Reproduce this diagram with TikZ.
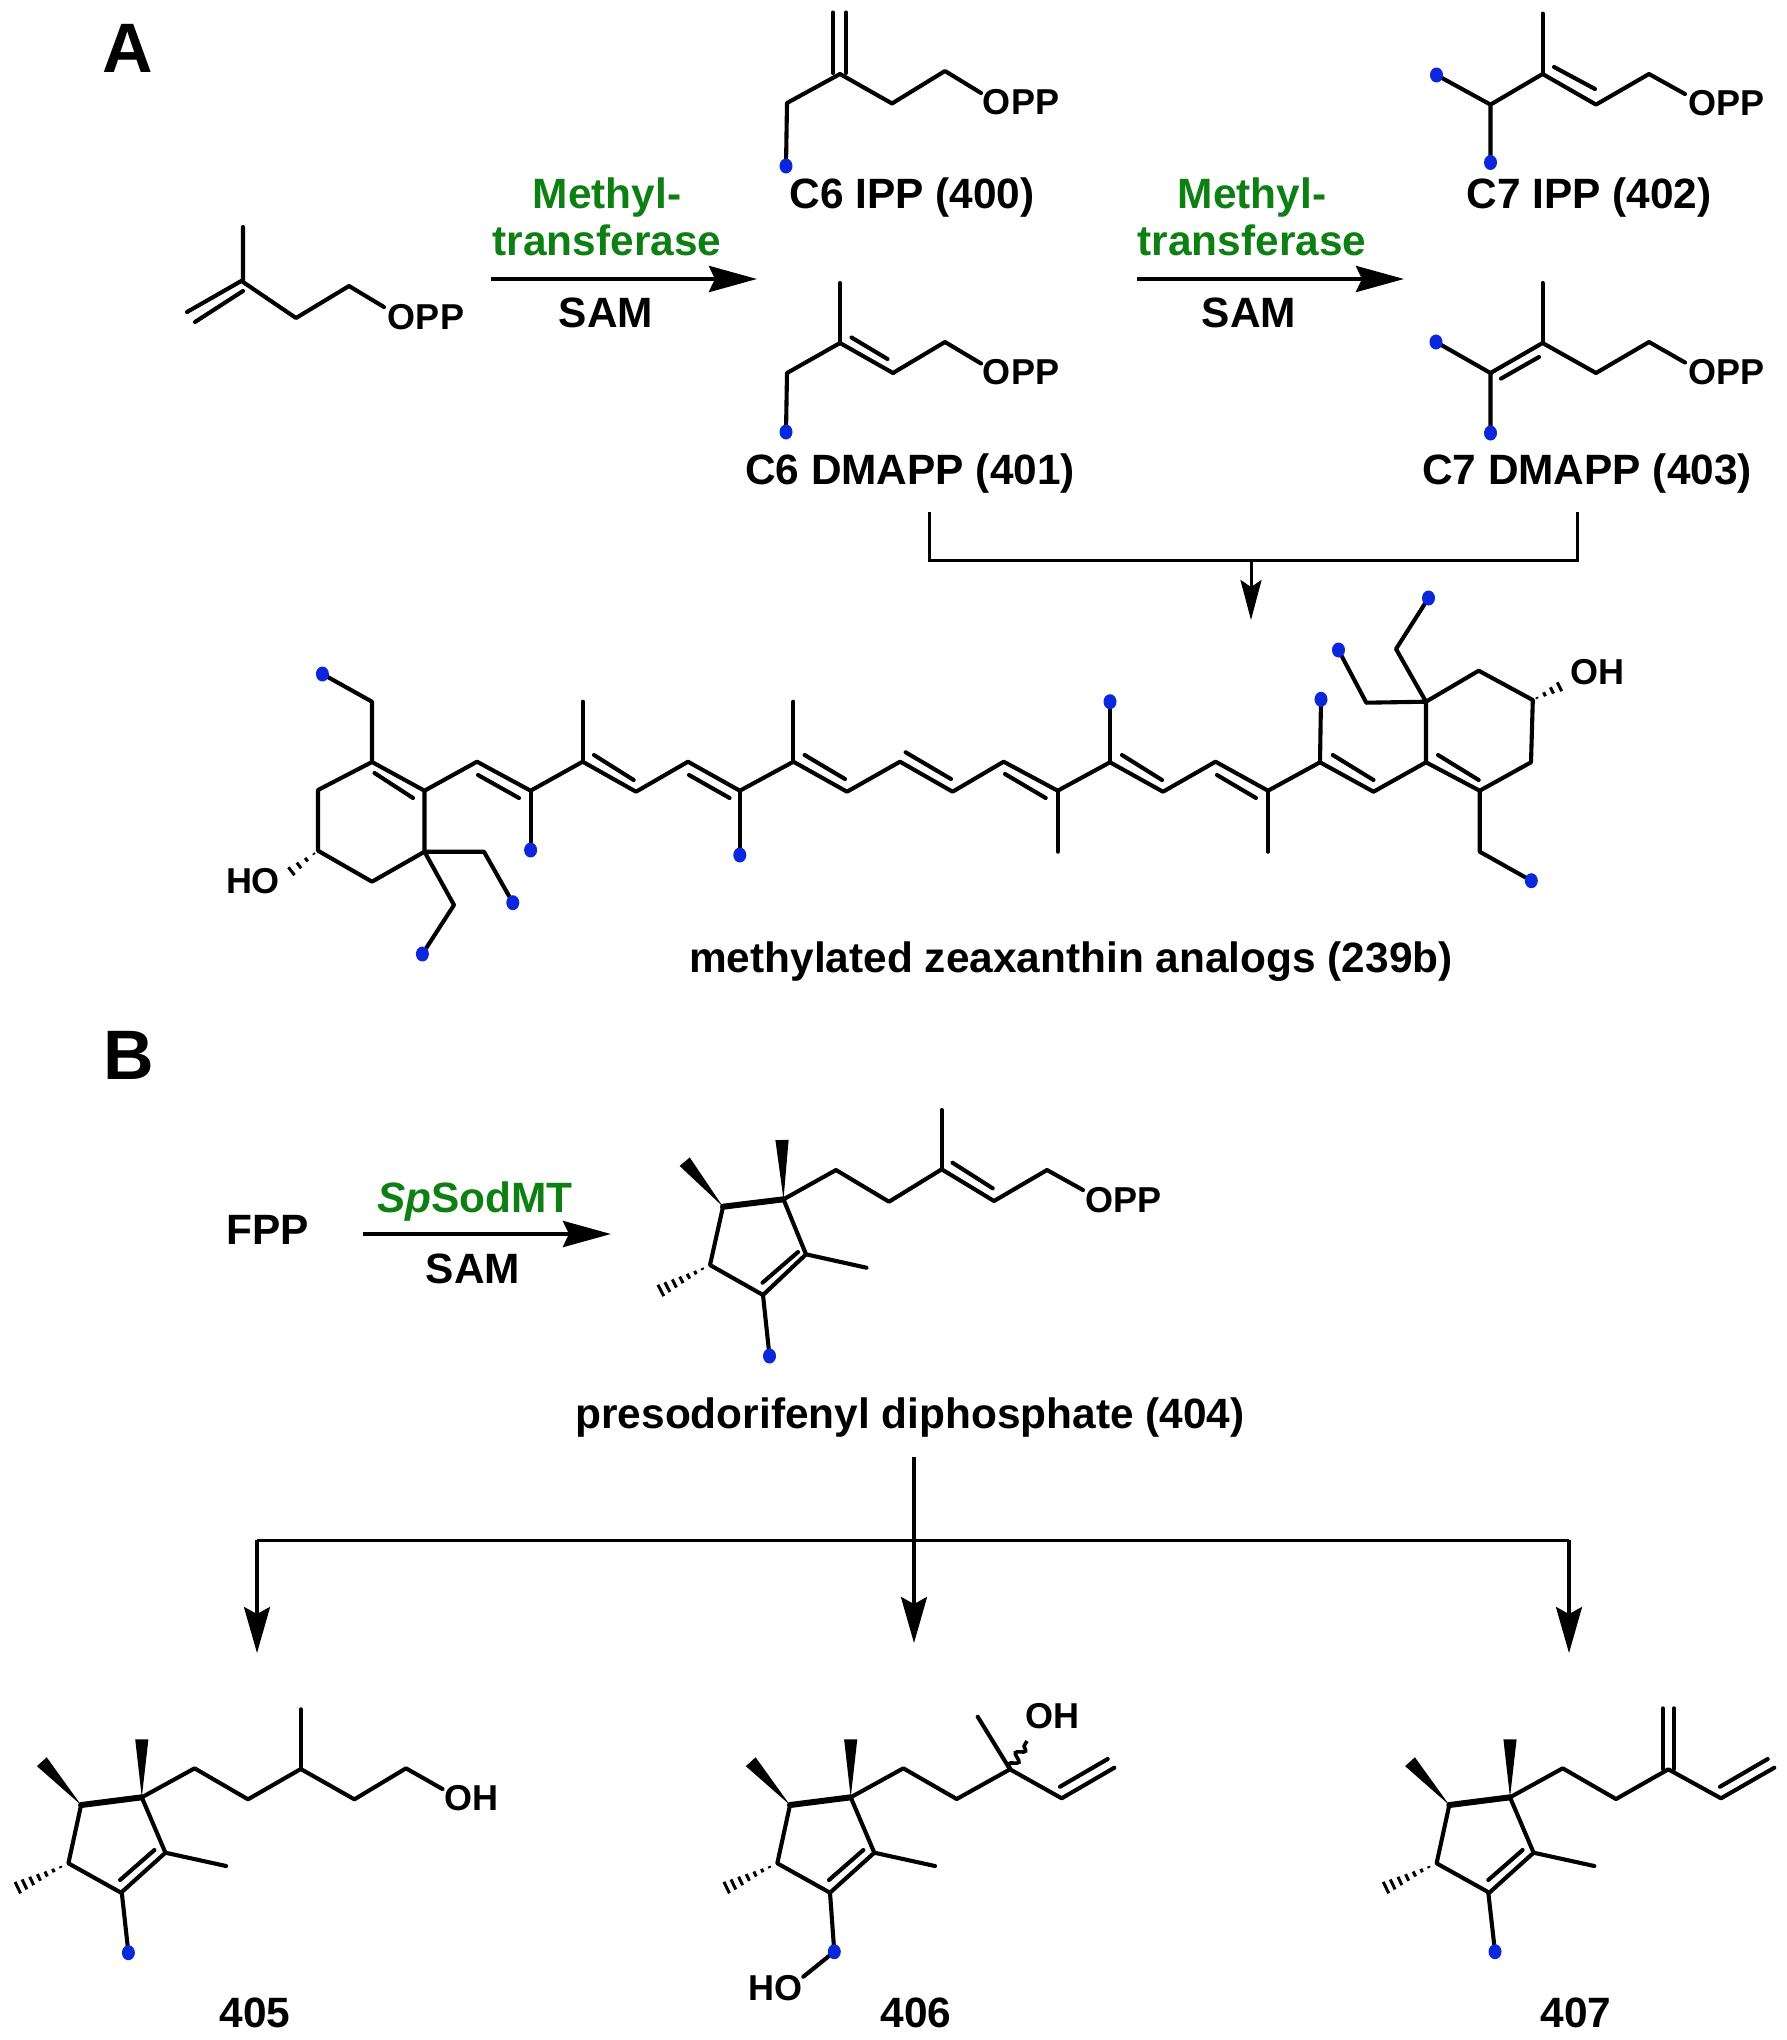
\documentclass[tikz,border=0pt]{standalone}
\usepackage{fontspec}
\setmainfont{Liberation Sans}
\usetikzlibrary{arrows.meta,calc,decorations.pathmorphing}
\definecolor{methylblue}{HTML}{0B27DC}
\definecolor{enzgreen}{HTML}{0E7F12}
\tikzset{
  bond/.style={line width=2.05pt,line cap=round,line join=round,black},
  lbl/.style={inner sep=0pt,anchor=base,font=\fontsize{21.2}{24}\selectfont\bfseries},
  atom/.style={inner sep=0pt,anchor=base,font=\fontsize{18}{20}\selectfont\bfseries},
  enz/.style={lbl,text=enzgreen},
  panel/.style={inner sep=0pt,anchor=base,font=\fontsize{35}{40}\selectfont\bfseries},
  rxn/.style={line width=2.2pt,black,-{Stealth[length=24pt,width=13pt,inset=3pt]}},
  branch/.style={line width=1.5pt,black},
  brancharrow/.style={line width=1.6pt,black,-{Stealth[length=23pt,width=13pt,inset=3.5pt]}},
  methyl/.style={fill=methylblue,draw=none}
}
\newcommand{\mdot}[1]{\fill[methyl] (#1) ellipse [x radius=6.5,y radius=7.5];}
\newcommand{\wedgebond}[2]{\fill[black,line join=round] (#1) -- ($(#2)!3.3pt!90:(#1)$) -- ($(#2)!3.3pt!-90:(#1)$) -- cycle;}
\newcommand{\hashbond}[2]{\foreach \t in {0.14,0.27,0.40,0.53,0.66,0.79,0.91,1.0}{%
  \pgfmathsetmacro{\w}{\t*3.5}%
  \coordinate (hh) at ($(#1)!\t!(#2)$);%
  \draw[line width=1.5pt,black] ($(hh)!\w pt!90:(#2)$) -- ($(hh)!\w pt!-90:(#2)$);}}
\newcommand{\hashshort}[2]{\foreach \t in {0.12,0.34,0.56,0.78,1.0}{%
  \pgfmathsetmacro{\w}{\t*3.2}%
  \coordinate (hh) at ($(#1)!\t!(#2)$);%
  \draw[line width=1.5pt,black] ($(hh)!\w pt!90:(#2)$) -- ($(hh)!\w pt!-90:(#2)$);}}
% cyclopentene core used by 405, 406, 407; origin = quaternary carbon
\newcommand{\corering}{%
  \coordinate (ca) at (0,0);\coordinate (cb) at (-60.7,7.7);\coordinate (cc) at (-73.4,66);
  \coordinate (cd) at (-20.7,95.4);\coordinate (ce) at (23.6,55.4);
  \wedgebond{ca}{0,-58}
  \wedgebond{cb}{-100,-35.6}
  \hashbond{cc}{-129,92.7}
  \draw[line width=3pt,line cap=round,black] (ca) -- (cb);
  \draw[bond] (cb) -- (cc) -- (cd) -- (ce) -- (ca);
  \draw[bond] (-21.7,82.7) -- (12.6,52.7);
  \draw[bond] (ce) -- (84.3,68.7);
}
\begin{document}
\begin{tikzpicture}[x=0.5pt,y=-0.5pt]
\useasboundingbox[fill=white] (0,0) rectangle (1787,2040);

% ---------- panel labels
\node[panel] (panelA) at (128,72) {A};
\node[panel] (panelB) at (129,1079) {B};

% ---------- starting material
\draw[bond] (243,227) -- (243,282) -- (296,318) -- (349,286) -- (384,307);
\draw[bond] (243,280) -- (187,312);
\draw[bond] (243,291) -- (195,322);
\node[atom] (opp0) at (426,329) {OPP};

% ---------- reaction arrow 1
\coordinate (r1a) at (491,279);\coordinate (r1b) at (757,279);
\draw[rxn] (r1a) -- (r1b);
\node[enz] (mt1a) at (607,208) {Methyl-};
\node[enz] (mt1b) at (607,255) {transferase};
\node[lbl] (sam1) at (606,327) {SAM};

% ---------- 400
\draw[bond] (833,12.5) -- (833,73);
\draw[bond] (846,12.5) -- (846,73);
\draw[bond] (786,166) -- (787,103) -- (840,74) -- (892,103.5) -- (945,71) -- (981,93);
\mdot{786,166}
\node[atom] (opp400) at (1021,114) {OPP};
\node[lbl] (c6ipp) at (912,208) {C6 IPP (400)};

% ---------- 401
\draw[bond] (840,283) -- (840,343);
\draw[bond] (786,432) -- (787,373) -- (840,343) -- (893,373) -- (945,342) -- (981,363.5);
\draw[bond] (851.5,337.5) -- (887.5,359);
\mdot{786,432}
\node[atom] (opp401) at (1021,384) {OPP};
\node[lbl] (c6dmapp) at (910,484) {C6 DMAPP (401)};

% ---------- reaction arrow 2
\coordinate (r2a) at (1137,279);\coordinate (r2b) at (1404,279);
\draw[rxn] (r2a) -- (r2b);
\node[enz] (mt2a) at (1252,208) {Methyl-};
\node[enz] (mt2b) at (1252,255) {transferase};
\node[lbl] (sam2) at (1249,327) {SAM};

% ---------- 402
\begin{scope}[xshift=-2.5pt]
\draw[bond] (1441.5,75) -- (1495.5,104.6) -- (1495.5,162.5);
\draw[bond] (1495.5,104.6) -- (1547.6,74) -- (1601,104.6) -- (1654,74) -- (1690,94);
\draw[bond] (1547.6,13.6) -- (1547.6,74);
\draw[bond] (1559,67) -- (1600,89);
\mdot{1441.5,75}\mdot{1495.5,162.5}
\node[atom] (opp402) at (1731,115) {OPP};
\end{scope}
\node[lbl] (c7ipp) at (1589,208) {C7 IPP (402)};

% ---------- 403
\begin{scope}[xshift=-2.5pt]
\draw[bond] (1441,342) -- (1495.5,373) -- (1495.5,433);
\draw[bond] (1495.5,373) -- (1547.6,343) -- (1601,373) -- (1654,342) -- (1690,362.5);
\draw[bond] (1547.6,283) -- (1547.6,343);
\draw[bond] (1506,378.6) -- (1544,357);
\mdot{1441,342}\mdot{1495.5,433}
\node[atom] (opp403) at (1731,384) {OPP};
\end{scope}
\node[lbl] (c7dmapp) at (1587,484) {C7 DMAPP (403)};

% ---------- bracket to zeaxanthin analogs
\coordinate (ba) at (929,512);\coordinate (bb) at (1577,512);
\coordinate (bc) at (1251,560);\coordinate (bd) at (1251,620);
\draw[branch] (ba) |- (bc) -| (bb);
\draw[branch,-{Stealth[length=20pt,width=10.5pt,inset=3.5pt]}] (bc) -- (bd);

% ---------- zeaxanthin analog: left ring
\draw[bond] (372,762) -- (424.5,790.7) -- (424.5,851.7) -- (372,881.7) -- (318,850.7) -- (318,790) -- cycle;
\draw[bond] (374.5,773) -- (413,798);
\draw[bond] (322.4,674) -- (372,701.7) -- (372,762);
\draw[bond] (424.5,851.7) -- (484,851.7) -- (512.8,902.7);
\draw[bond] (424.5,851.7) -- (454,905) -- (422.4,954);
\hashshort{318,850.7}{284,877}
\mdot{322.4,674}\mdot{512.8,902.7}\mdot{422.4,954}
\node[atom] (ho1) at (253,893) {HO};

% ---------- polyene chain
\draw[bond] (424.5,790.7) -- (477,761.7) -- (530.6,790.7) -- (582.7,761.7) -- (636,791.7) -- (688,761.7) -- (739.8,790.7) -- (793.4,761.7) -- (847,791.7) -- (900,761.7) -- (952.6,791.7) -- (1003.6,761.7) -- (1057.7,790.7) -- (1110,762.3) -- (1163,791.7) -- (1215.5,761.7) -- (1268,790.7) -- (1320,762.3) -- (1373.5,791.7) -- (1426,762.3);
\draw[bond] (478,775) -- (519,798);
\draw[bond] (594,755) -- (633.7,780);
\draw[bond] (689,775) -- (729.6,798);
\draw[bond] (804.6,755) -- (845,779);
\draw[bond] (905.6,752.3) -- (951,779);
\draw[bond] (1005,774) -- (1045.7,798);
\draw[bond] (1122,755) -- (1162,780);
\draw[bond] (1217,775) -- (1256,798);
\draw[bond] (1332.8,755) -- (1373.5,780);
\draw[bond] (530.6,790.7) -- (530.6,850);
\draw[bond] (582.7,701.7) -- (582.7,761.7);
\draw[bond] (739.8,790.7) -- (739.8,855);
\draw[bond] (793.4,701.7) -- (793.4,761.7);
\draw[bond] (1057.7,790.7) -- (1057.7,851.7);
\draw[bond] (1110,701.7) -- (1110,762.3);
\draw[bond] (1268,790.7) -- (1268,851.7);
\draw[bond] (1321,699.3) -- (1320,762.3);
\mdot{530.6,850}\mdot{739.8,855}\mdot{1110,701.7}\mdot{1321,699.3}

% ---------- zeaxanthin analog: right ring
\draw[bond] (1426,762.3) -- (1426,701.7) -- (1478.7,670.7) -- (1532.8,700) -- (1531,762.3) -- (1479.7,790.7) -- cycle;
\draw[bond] (1438,755) -- (1478.7,780);
\draw[bond] (1479.7,790.7) -- (1479.7,851.7) -- (1531.3,880.7);
\draw[bond] (1426,701.7) -- (1366.3,702.7) -- (1338.5,650);
\draw[bond] (1426,701.7) -- (1396,649) -- (1428.5,598);
\hashshort{1532.8,700}{1567,683}
\mdot{1531.3,880.7}\mdot{1338.5,650}\mdot{1428.5,598}
\node[atom] (oh1) at (1597,684) {OH};
\node[lbl] (zeax) at (1071,972) {methylated zeaxanthin analogs (239b)};

% ---------- panel B top reaction
\node[lbl] (fpp) at (268,1244) {FPP};
\coordinate (r3a) at (363,1234);\coordinate (r3b) at (611,1234);
\draw[rxn] (r3a) -- (r3b);
\node[enz] (sod) at (475,1212) {\textit{Sp}SodMT};
\node[lbl] (sam3) at (473,1283) {SAM};

% ---------- 404
\wedgebond{783.5,1199.3}{782,1140}
\wedgebond{723,1206.7}{684.7,1161.7}
\hashbond{710,1265}{656,1293}
\draw[line width=3pt,line cap=round,black] (783.5,1199.3) -- (723,1206.7);
\draw[bond] (723,1206.7) -- (710,1265) -- (763,1295) -- (806,1254.3) -- (783.5,1199.3);
\draw[bond] (762.5,1282.7) -- (798,1252);
\draw[bond] (806,1254.3) -- (866.5,1267.7);
\draw[bond] (763,1295) -- (769.5,1356);
\mdot{769.5,1356}
\draw[bond] (783.5,1199.3) -- (836,1170) -- (889,1201.7) -- (941.7,1169.3) -- (994,1201) -- (1047,1170) -- (1083,1190);
\draw[bond] (941.7,1110) -- (941.7,1169.3);
\draw[bond] (952.5,1162.7) -- (992.7,1188.3);
\node[atom] (opp404) at (1123,1212) {OPP};
\node[lbl] (preso) at (910,1428) {presodorifenyl diphosphate (404)};

% ---------- branching arrows
\coordinate (ta) at (914,1457);\coordinate (tb) at (914,1540);\coordinate (tc) at (914,1643);
\coordinate (la) at (257,1540);\coordinate (lb) at (257,1653);
\coordinate (ra) at (1569,1540);\coordinate (rb) at (1569,1653);
\draw[branch] (la) -- (ra);
\draw[brancharrow] (ta) -- (tc);
\draw[brancharrow] (la) -- (lb);
\draw[brancharrow] (ra) -- (rb);

% ---------- 405
\begin{scope}[shift={(141.8,1797.3)}]
\corering
\end{scope}
\draw[bond] (121.8,1892.7) -- (128.4,1952.7);
\mdot{128.4,1952.7}
\draw[bond] (141.8,1797.3) -- (194.6,1768.3) -- (248,1799.3) -- (300.8,1769) -- (354.4,1799.3) -- (406,1768.3) -- (442.5,1789);
\draw[bond] (300.8,1709.3) -- (300.8,1769);
\node[atom] (oh405) at (471,1810) {OH};
\node[lbl] (n405) at (255,2027) {405};

% ---------- 406
\begin{scope}[shift={(850.7,1797.3)}]
\corering
\end{scope}
\draw[bond] (830,1892.7) -- (834.3,1951.7) -- (803.3,1976.7);
\mdot{834.3,1951.7}
\node[atom] (ho406) at (775,2000) {HO};
\draw[bond] (850.7,1797.3) -- (903.3,1768.3) -- (956.7,1799) -- (1010,1769.3) -- (1061.7,1798.3) -- (1114.3,1767.7);
\draw[bond] (977.7,1716.7) -- (1010,1769.3);
\draw[bond] (1060,1786.7) -- (1107.7,1759);
\draw[line width=1.8pt,black,decorate,decoration={snake,amplitude=2pt,segment length=6.5pt}] (1010,1769.3) -- (1027,1741);
\node[atom] (oh406) at (1052,1728) {OH};
\node[lbl] (n406) at (916,2027) {406};

% ---------- 407
\begin{scope}[shift={(1510,1797.3)}]
\corering
\end{scope}
\draw[bond] (1488.3,1892.7) -- (1495,1951.7);
\mdot{1495,1951.7}
\draw[bond] (1510,1797.3) -- (1562.7,1768.3) -- (1616,1799) -- (1668.3,1769.3) -- (1721,1798.3) -- (1774.3,1767.7);
\draw[bond] (1662.7,1708.3) -- (1662.7,1769);
\draw[bond] (1674,1708.3) -- (1674,1769);
\draw[bond] (1720,1786.7) -- (1767.7,1759);
\node[lbl] (n407) at (1576,2027) {407};
\end{tikzpicture}
\end{document}
